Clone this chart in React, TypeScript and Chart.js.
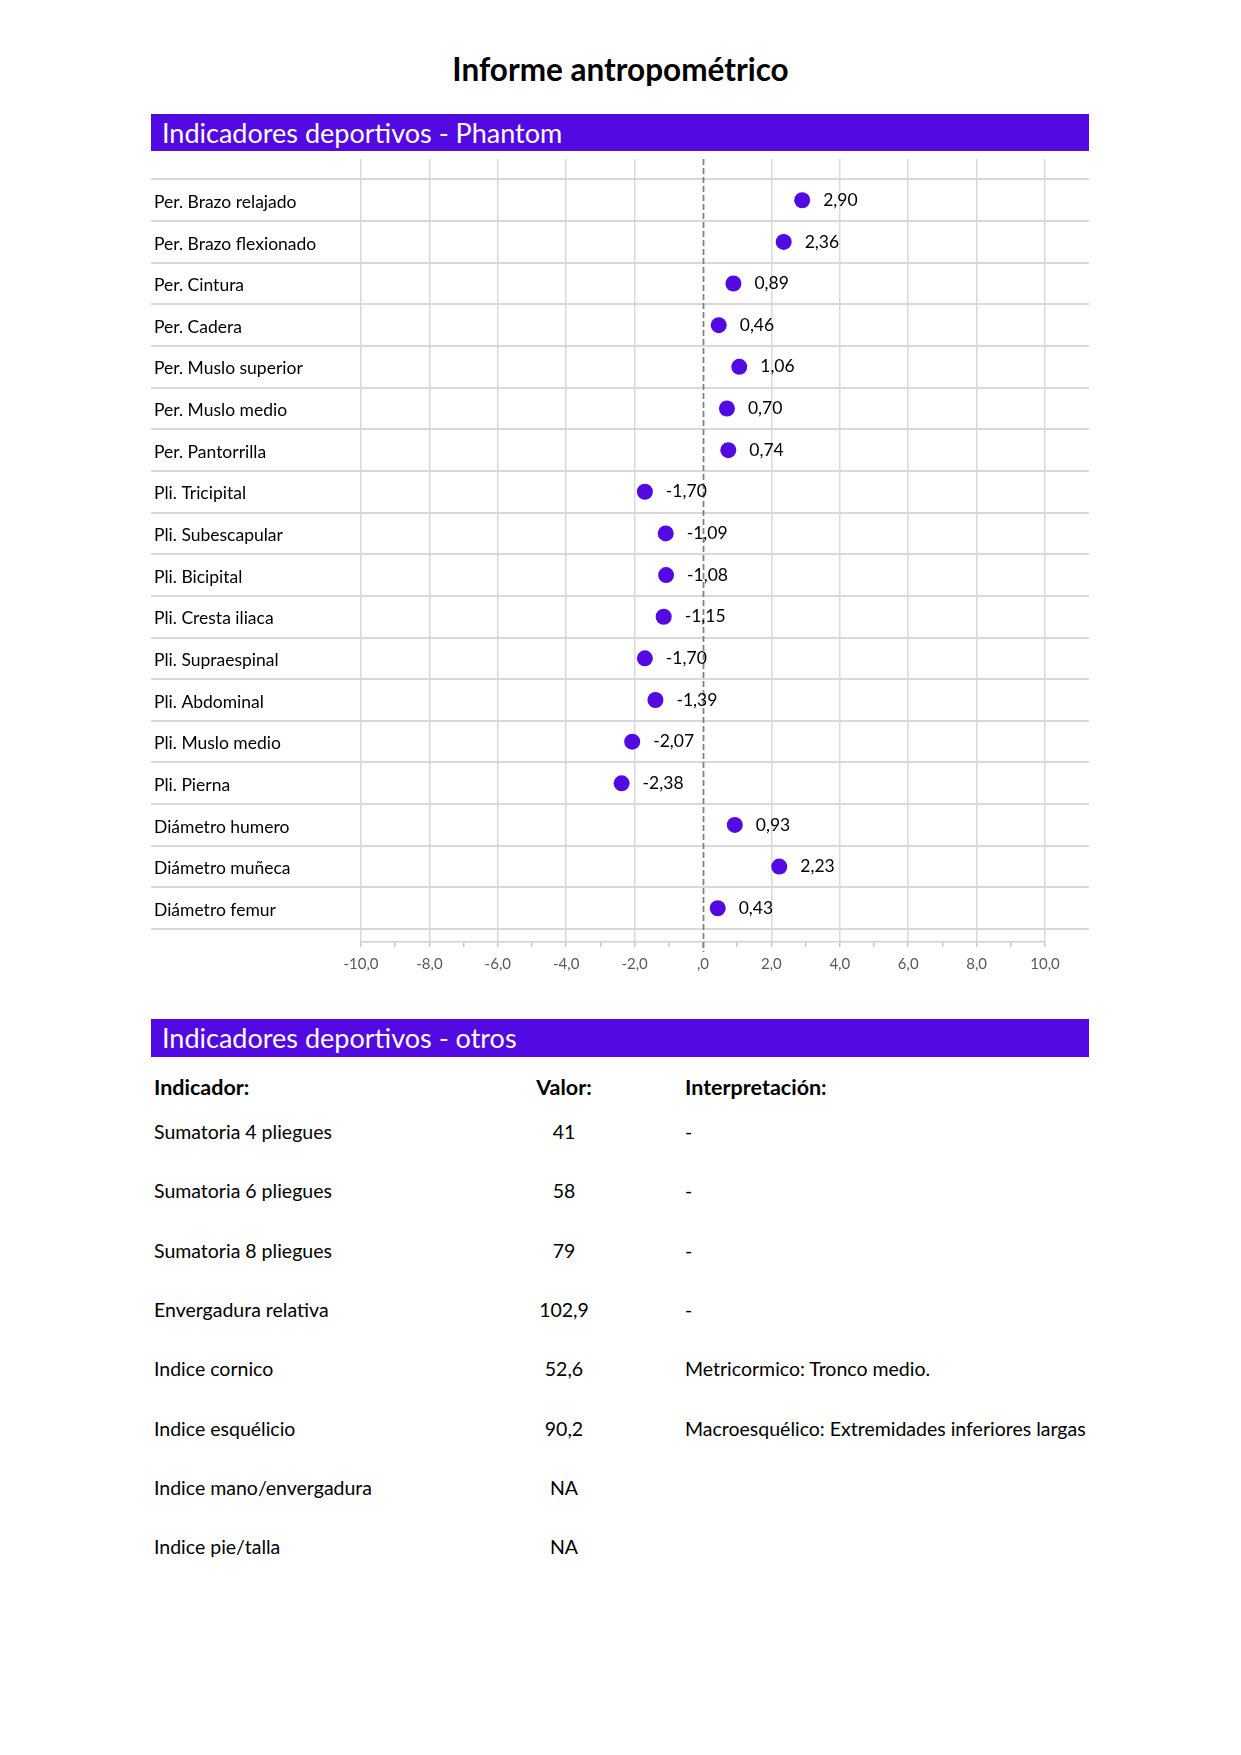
import React, { useEffect, useRef } from 'react';
import { Chart, registerables } from 'chart.js';

Chart.register(...registerables);

const FONT = 'Lato, "Open Sans", "DejaVu Sans", sans-serif';
const PURPLE = '#5209E2';

// ---- Chart data ----
const categories = [
  'Per. Brazo relajado',
  'Per. Brazo flexionado',
  'Per. Cintura',
  'Per. Cadera',
  'Per. Muslo superior',
  'Per. Muslo medio',
  'Per. Pantorrilla',
  'Pli. Tricipital',
  'Pli. Subescapular',
  'Pli. Bicipital',
  'Pli. Cresta iliaca',
  'Pli. Supraespinal',
  'Pli. Abdominal',
  'Pli. Muslo medio',
  'Pli. Pierna',
  'Diámetro humero',
  'Diámetro muñeca',
  'Diámetro femur',
];
const zScores = [2.9, 2.36, 0.89, 0.46, 1.06, 0.7, 0.74, -1.7, -1.09, -1.08, -1.15, -1.7, -1.39, -2.07, -2.38, 0.93, 2.23, 0.43];
const xMin = -10;
const xMax = 10;
const xLabelStep = 2;

// ---- Table data ----
const indicators = [
  'Sumatoria 4 pliegues',
  'Sumatoria 6 pliegues',
  'Sumatoria 8 pliegues',
  'Envergadura relativa',
  'Indice cornico',
  'Indice esquélicio',
  'Indice mano/envergadura',
  'Indice pie/talla',
];
const indicatorValues = ['41', '58', '79', '102,9', '52,6', '90,2', 'NA', 'NA'];
const interpretations = [
  '-',
  '-',
  '-',
  '-',
  'Metricormico: Tronco medio.',
  'Macroesquélico: Extremidades inferiores largas',
  '',
  '',
];

const fmt = (v: number, d: number) => v.toFixed(d).replace('.', ',');

const decorPlugin = {
  id: 'decor',
  beforeDatasetsDraw(chart: any) {
    const ctx = chart.ctx;
    const y = chart.scales.y;
    const x = chart.scales.x;
    ctx.save();
    ctx.strokeStyle = '#d9d9d9';
    ctx.lineWidth = 2;
    for (let i = 0; i <= categories.length; i++) {
      const py = Math.round(y.getPixelForValue(i - 0.5));
      ctx.beginPath();
      ctx.moveTo(0, py);
      ctx.lineTo(chart.width, py);
      ctx.stroke();
    }
    const x0 = Math.round(x.getPixelForValue(0)) + 0.5;
    ctx.strokeStyle = '#7f7f7f';
    ctx.lineWidth = 1.75;
    ctx.setLineDash([6, 3]);
    ctx.beginPath();
    ctx.moveTo(x0, chart.chartArea.top);
    ctx.lineTo(x0, chart.chartArea.bottom + 10);
    ctx.stroke();
    ctx.restore();
  },
  afterDatasetsDraw(chart: any) {
    const ctx = chart.ctx;
    const meta = chart.getDatasetMeta(0);
    ctx.save();
    ctx.fillStyle = '#000';
    ctx.font = `17.5px ${FONT}`;
    ctx.textAlign = 'left';
    ctx.textBaseline = 'middle';
    meta.data.forEach((pt: any, i: number) => {
      ctx.fillText(fmt(zScores[i], 2), pt.x + 21, pt.y);
    });
    ctx.restore();
  },
};

function PhantomChart() {
  const ref = useRef<HTMLCanvasElement | null>(null);
  useEffect(() => {
    if (!ref.current) return;
    const chart = new Chart(ref.current, {
      type: 'scatter',
      data: {
        datasets: [
          {
            data: zScores.map((v, i) => ({ x: v, y: i })),
            pointRadius: 8,
            pointHoverRadius: 8,
            pointBackgroundColor: PURPLE,
            pointBorderWidth: 0,
            showLine: false,
          },
        ],
      },
      options: {
        responsive: false,
        animation: false,
        events: [],
        layout: { padding: { left: 3, right: 44, top: 19, bottom: 0 } },
        plugins: { legend: { display: false }, tooltip: { enabled: false } },
        scales: {
          x: {
            type: 'linear',
            min: xMin,
            max: xMax,
            afterBuildTicks: (s: any) => {
              const t = [];
              for (let v = xMin; v <= xMax; v++) t.push({ value: v });
              s.ticks = t;
            },
            afterFit: (s: any) => {
              s.height = 48;
            },
            grid: {
              color: (c: any) =>
                c.tick && c.tick.value % xLabelStep === 0 && c.tick.value !== 0 ? '#d9d9d9' : 'rgba(0,0,0,0)',
              lineWidth: 1.5,
              tickColor: '#c8c8c8',
              tickLength: 5,
              drawTicks: true,
            },
            border: { display: true, color: '#d0d0d0', width: 1.5 },
            ticks: {
              autoSkip: false,
              maxRotation: 0,
              padding: 8,
              color: '#595959',
              font: { family: FONT, size: 15 },
              callback: (v: any) => {
                const n = Number(v);
                if (n % xLabelStep !== 0) return '';
                return n === 0 ? ',0' : fmt(n, 1);
              },
            },
          },
          y: {
            type: 'linear',
            reverse: true,
            min: -0.99,
            max: 17.81,
            afterBuildTicks: (s: any) => {
              s.ticks = categories.map((_, i) => ({ value: i }));
            },
            afterFit: (s: any) => {
              s.width = 207;
            },
            grid: { display: false },
            border: { display: false },
            ticks: {
              autoSkip: false,
              crossAlign: 'far',
              labelOffset: 2,
              color: '#000',
              font: { family: FONT, size: 17.5 },
              callback: (v: any) => categories[Number(v)] ?? '',
            },
          },
        },
      },
      plugins: [decorPlugin],
    } as any);
    return () => chart.destroy();
  }, []);
  return (
    <canvas
      ref={ref}
      width={938}
      height={850}
      style={{ position: 'absolute', left: 151, top: 140, width: 938, height: 850 }}
    />
  );
}

const headerBar = (top: number, height: number, text: string) => (
  <div
    style={{
      position: 'absolute',
      left: 151,
      top,
      width: 938,
      height,
      background: PURPLE,
      color: '#fff',
      fontFamily: FONT,
      fontSize: 27,
      lineHeight: `${height}px`,
      paddingLeft: 11,
      boxSizing: 'border-box',
      whiteSpace: 'nowrap',
    }}
  >
    {text}
  </div>
);

export default function App() {
  const rowTop0 = 1132;
  const rowStep = 59.3;
  const cell = (top: number, left: number, text: string, bold: boolean, align: 'left' | 'center', width?: number) => (
    <div
      style={{
        position: 'absolute',
        top: top - 14,
        left,
        width,
        height: 28,
        lineHeight: '28px',
        fontFamily: FONT,
        fontSize: bold ? 21.5 : 19.5,
        fontWeight: bold ? 700 : 400,
        color: '#000',
        textAlign: align,
        whiteSpace: 'nowrap',
      }}
    >
      {text}
    </div>
  );
  return (
    <div style={{ position: 'absolute', left: 0, top: 0, width: 1241, height: 1755, background: '#fff', overflow: 'hidden' }}>
      <div
        style={{
          position: 'absolute',
          left: 0,
          top: 50,
          width: 1241,
          height: 38,
          lineHeight: '38px',
          textAlign: 'center',
          fontFamily: FONT,
          fontWeight: 700,
          fontSize: 31.5,
          color: '#000',
        }}
      >
        Informe antropométrico
      </div>
      {headerBar(114, 37, 'Indicadores deportivos - Phantom')}
      <PhantomChart />
      {headerBar(1019, 38, 'Indicadores deportivos - otros')}
      {cell(1087, 154, 'Indicador:', true, 'left')}
      {cell(1087, 464, 'Valor:', true, 'center', 200)}
      {cell(1087, 685, 'Interpretación:', true, 'left')}
      {indicators.map((name, i) => (
        <React.Fragment key={name}>
          {cell(rowTop0 + i * rowStep, 154, name, false, 'left')}
          {cell(rowTop0 + i * rowStep, 464, indicatorValues[i], false, 'center', 200)}
          {cell(rowTop0 + i * rowStep, 685, interpretations[i], false, 'left')}
        </React.Fragment>
      ))}
    </div>
  );
}
